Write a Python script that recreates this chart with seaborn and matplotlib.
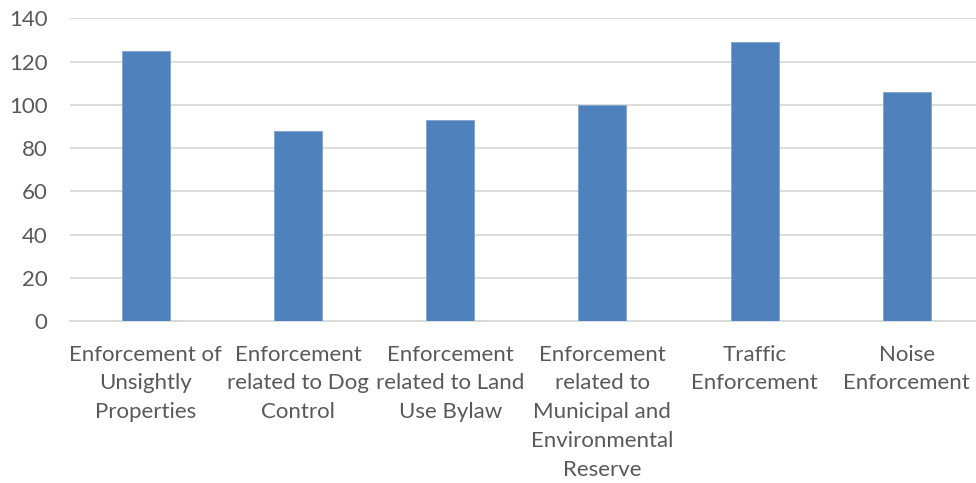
import matplotlib
matplotlib.use("Agg")
import matplotlib.pyplot as plt
import seaborn as sns
import pandas as pd

categories = [
    "Enforcement of\nUnsightly\nProperties",
    "Enforcement\nrelated to Dog\nControl",
    "Enforcement\nrelated to Land\nUse Bylaw",
    "Enforcement\nrelated to\nMunicipal and\nEnvironmental\nReserve",
    "Traffic\nEnforcement",
    "Noise\nEnforcement",
]
values = [125, 88, 93, 100, 129, 106]
yticks = [0, 20, 40, 60, 80, 100, 120, 140]

sns.set_theme(style="white")
plt.rcParams['font.family'] = ['Lato', 'DejaVu Sans']

df = pd.DataFrame({"cat": categories, "val": values})

fig = plt.figure(figsize=(9.76, 4.83), dpi=100)
ax = fig.add_axes([0.0714, 0.3354, 0.9357, 0.6263])
sns.barplot(data=df, x="cat", y="val", color="#4F81BD", width=0.315,
            saturation=1, ax=ax, zorder=3)
for p in ax.patches:
    p.set_edgecolor("#7FA3D0")
    p.set_linewidth(0.6)

ax.set_ylim(0, 140)
ax.set_xlim(-0.5, len(categories) - 0.5)
ax.set_yticks(yticks)
ax.set_yticklabels([str(t) for t in yticks])
ax.yaxis.grid(True, color="#D9D9D9", linewidth=1.3, zorder=0)
ax.set_axisbelow(True)
for s in ["top", "right", "left"]:
    ax.spines[s].set_visible(False)
ax.spines["bottom"].set_color("#D9D9D9")
ax.spines["bottom"].set_linewidth(1.3)
ax.set_xlabel("")
ax.set_ylabel("")
ax.tick_params(axis="both", length=0, colors="#595959")
ax.tick_params(axis="y", pad=16, labelsize=16)
ax.tick_params(axis="x", pad=17, labelsize=16)
for lbl in ax.get_xticklabels():
    lbl.set_linespacing(1.55)
    lbl.set_verticalalignment("top")

fig.savefig("out.png", dpi=100)
